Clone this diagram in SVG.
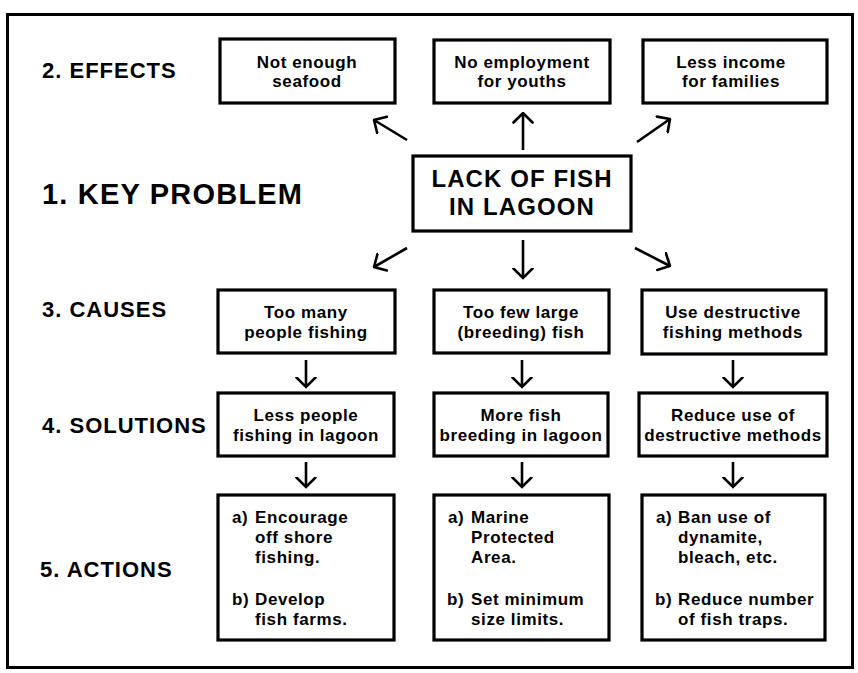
<svg xmlns="http://www.w3.org/2000/svg" width="858" height="673" viewBox="0 0 858 673">
<defs>
<marker id="ah" viewBox="0 0 12 22" refX="10.5" refY="11" markerWidth="12" markerHeight="22" markerUnits="userSpaceOnUse" orient="auto">
<path d="M1,1.5 L10.5,11 L1,20.5" fill="none" stroke="#000" stroke-width="2.6" stroke-linecap="round" stroke-linejoin="miter"/>
</marker>
<style>
.box{fill:#fff;stroke:#000;stroke-width:3.2}
.frame{fill:#fff;stroke:#000;stroke-width:3}
.t{font-family:"Liberation Sans",Arial,Helvetica,sans-serif;font-weight:bold;fill:#000}
.bx{font-size:17px;letter-spacing:0.6px;text-anchor:middle}
.ac{font-size:17px;letter-spacing:0.6px}
.lbl{font-size:22px;letter-spacing:1px}
.big{font-size:29px;letter-spacing:1.2px}
.key{font-size:24px;letter-spacing:1.1px;text-anchor:middle}
.arr{fill:none;stroke:#000;stroke-width:2.6;marker-end:url(#ah)}
</style>
</defs>
<rect class="frame" x="7.5" y="14.5" width="845" height="653"/>
<g id="labels">
<text class="t lbl" x="42" y="78">2. EFFECTS</text>
<text class="t big" x="42" y="204">1. KEY PROBLEM</text>
<text class="t lbl" x="42" y="317">3. CAUSES</text>
<text class="t lbl" x="42" y="433">4. SOLUTIONS</text>
<text class="t lbl" x="40" y="577">5. ACTIONS</text>
</g>
<g id="effect1"><rect class="box" x="220" y="39" width="175" height="64"/>
<text class="t bx" x="307" y="68">Not enough</text><text class="t bx" x="307" y="87">seafood</text></g>
<g id="effect2"><rect class="box" x="434" y="40" width="176" height="63"/>
<text class="t bx" x="522" y="68">No employment</text><text class="t bx" x="522" y="87">for youths</text></g>
<g id="effect3"><rect class="box" x="643" y="40" width="184" height="63"/>
<text class="t bx" x="731" y="68">Less income</text><text class="t bx" x="731" y="87">for families</text></g>
<g id="key"><rect class="box" x="413" y="156" width="218" height="75"/>
<text class="t key" x="522" y="187">LACK OF FISH</text><text class="t key" x="522" y="215">IN LAGOON</text></g>
<g id="cause1"><rect class="box" x="218" y="290" width="177" height="63"/>
<text class="t bx" x="306" y="318">Too many</text><text class="t bx" x="306" y="338">people fishing</text></g>
<g id="cause2"><rect class="box" x="434" y="290" width="175" height="63"/>
<text class="t bx" x="521" y="318">Too few large</text><text class="t bx" x="521" y="338">(breeding) fish</text></g>
<g id="cause3"><rect class="box" x="642" y="290" width="184" height="64"/>
<text class="t bx" x="733" y="318">Use destructive</text><text class="t bx" x="733" y="338">fishing methods</text></g>
<g id="solution1"><rect class="box" x="218" y="393" width="176" height="63"/>
<text class="t bx" x="306" y="421">Less people</text><text class="t bx" x="306" y="441">fishing in lagoon</text></g>
<g id="solution2"><rect class="box" x="434" y="393" width="174" height="63"/>
<text class="t bx" x="521" y="421">More fish</text><text class="t bx" x="521" y="441">breeding in lagoon</text></g>
<g id="solution3"><rect class="box" x="639" y="393" width="188" height="63"/>
<text class="t bx" x="733" y="421">Reduce use of</text><text class="t bx" x="733" y="441">destructive methods</text></g>
<g id="action1"><rect class="box" x="218" y="495" width="176" height="145"/>
<text class="t ac" x="232" y="523">a)</text><text class="t ac" x="255" y="523">Encourage</text>
<text class="t ac" x="255" y="543">off shore</text><text class="t ac" x="255" y="563">fishing.</text>
<text class="t ac" x="232" y="605">b)</text><text class="t ac" x="255" y="605">Develop</text>
<text class="t ac" x="255" y="625">fish farms.</text></g>
<g id="action2"><rect class="box" x="434" y="495" width="175" height="145"/>
<text class="t ac" x="448" y="523">a)</text><text class="t ac" x="471" y="523">Marine</text>
<text class="t ac" x="471" y="543">Protected</text><text class="t ac" x="471" y="563">Area.</text>
<text class="t ac" x="447" y="605">b)</text><text class="t ac" x="471" y="605">Set minimum</text>
<text class="t ac" x="471" y="625">size limits.</text></g>
<g id="action3"><rect class="box" x="642" y="495" width="183" height="145"/>
<text class="t ac" x="656" y="523">a)</text><text class="t ac" x="678" y="523">Ban use of</text>
<text class="t ac" x="678" y="543">dynamite,</text><text class="t ac" x="678" y="563">bleach, etc.</text>
<text class="t ac" x="655" y="605">b)</text><text class="t ac" x="678" y="605">Reduce number</text>
<text class="t ac" x="678" y="625">of fish traps.</text></g>
<g id="connectors">
<path class="arr" d="M523,150 L523,113"/>
<path class="arr" d="M407,140 L374,120"/>
<path class="arr" d="M637,142 L670,119"/>
<path class="arr" d="M407,248 L374,267"/>
<path class="arr" d="M523,240 L523,278"/>
<path class="arr" d="M635,248 L670,266"/>
<path class="arr" d="M306,360 L306,387"/>
<path class="arr" d="M522,360 L522,387"/>
<path class="arr" d="M733,360 L733,387"/>
<path class="arr" d="M306,462 L306,487"/>
<path class="arr" d="M522,462 L522,487"/>
<path class="arr" d="M733,462 L733,487"/>
</g>
</svg>
